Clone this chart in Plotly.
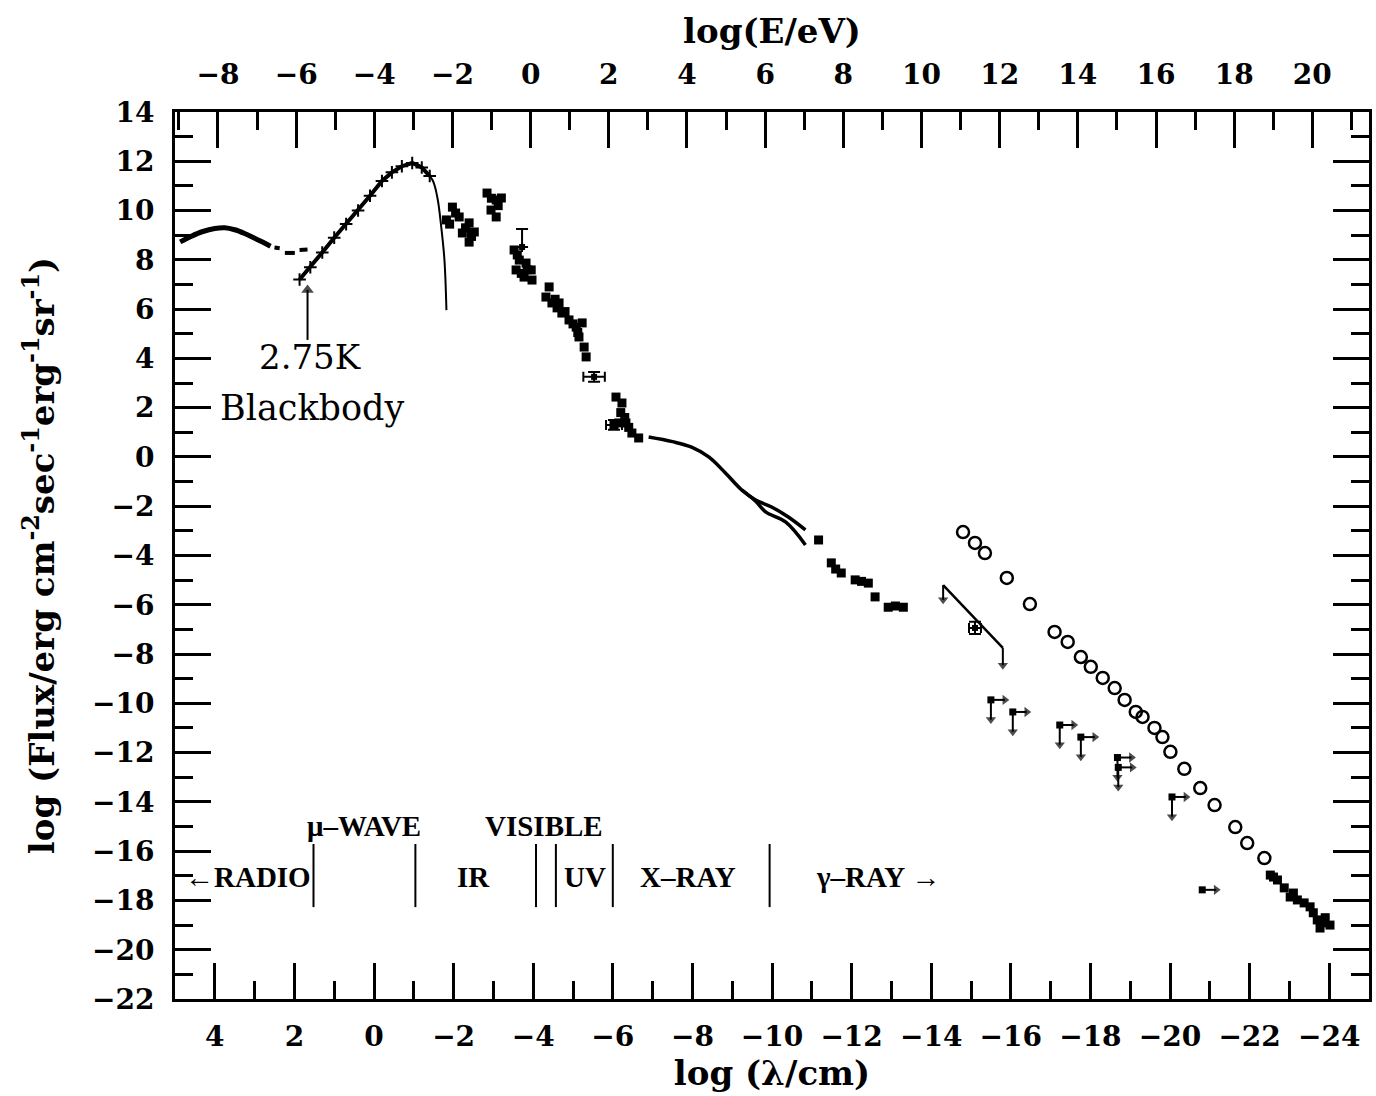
import plotly.graph_objects as go

# ---- measured spectrum of the diffuse background, log10 of wavelength (cm) vs log10 flux ----
# radio background
radio_logl = [4.87, 4.6, 4.3, 4.0, 3.75, 3.5, 3.25, 3.0, 2.8, 2.6]
radio_logf = [8.73, 8.95, 9.15, 9.27, 9.3, 9.22, 9.07, 8.88, 8.72, 8.55]
radio_gap_logl = [2.5, 2.37, None, 2.24, 1.99, None, 1.87, 1.67]
radio_gap_logf = [8.5, 8.47, None, 8.28, 8.28, None, 8.4, 8.42]

# microwave background measurements (thick band) and the 2.75 K blackbody curve
cmb_logl = [1.87, 1.6, 1.3, 1.0, 0.7, 0.4, 0.1, -0.2, -0.45, -0.7, -0.96, -1.2, -1.4]
cmb_logf = [7.2, 7.7, 8.3, 8.9, 9.45, 10.0, 10.6, 11.2, 11.55, 11.8, 11.93, 11.75, 11.4]
bb_logl = [-0.96, -1.22, -1.47, -1.59, -1.69, -1.77, -1.82]
bb_logf = [11.93, 11.73, 11.24, 10.55, 9.33, 7.99, 5.96]

# infrared points
ir_logl = [-1.82, -1.97, -2.14, -2.22, -2.39, -2.52, -2.39, -2.05, -2.3, -1.9, -2.45,
           -2.84, -3.07, -2.94, -3.2, -3.07, -2.95, -3.12,
           -3.52, -3.65, -3.57, -3.82, -3.95, -3.77, -3.97, -3.6, -3.85, -3.7]
ir_logf = [9.62, 10.14, 9.74, 9.09, 9.5, 9.13, 8.72, 9.9, 9.3, 9.45, 8.95,
           10.71, 10.43, 10.02, 10.51, 9.74, 10.5, 10.2,
           8.4, 7.99, 7.59, 7.87, 7.59, 7.3, 7.18, 8.2, 7.6, 7.45]

# optical / ultraviolet points
opt_logl = [-4.4, -4.32, -4.47, -4.65, -4.72, -4.9, -5.08, -5.23, -5.15, -5.28, -5.33,
            -4.55, -4.8, -5.0, -4.6, -5.12,
            -6.08, -6.23, -6.15, -6.33, -6.48, -6.65, -6.03, -6.2, -6.4, -6.3]
opt_logf = [6.9, 6.49, 6.25, 6.25, 5.84, 5.56, 5.27, 5.44, 4.87, 4.46, 4.06,
            6.4, 5.9, 5.4, 6.05, 5.05,
            2.43, 2.19, 1.38, 1.38, 0.97, 0.77, 1.3, 1.8, 1.2, 1.6]

# points drawn with explicit error bars
errpt_logl = [-3.72, -5.53, -6.03, -15.1]
errpt_logf = [8.52, 3.25, 1.3, -6.94]
errpt_up = [0.73, 0.2, 0.2, 0.25]
errpt_dn = [0.0, 0.2, 0.2, 0.25]
errpt_lr = [0.0, 0.27, 0.2, 0.15]

# X-ray background spectrum (two fitted branches)
xray_logl = [-6.9, -7.5, -7.98, -8.41, -8.83, -9.24, -9.59, -9.99, -10.41, -10.84]
xray_logf = [0.81, 0.62, 0.4, 0.0, -0.65, -1.34, -1.75, -2.03, -2.44, -2.96]
xray_low_logl = [-9.24, -9.59, -9.84, -10.34, -10.84]
xray_low_logf = [-1.34, -1.8, -2.23, -2.64, -3.57]

# hard X-ray points
hx_logl = [-11.17, -11.49, -11.6, -11.74, -12.09, -12.25, -12.42, -12.59, -12.92, -13.1, -13.3]
hx_logf = [-3.37, -4.3, -4.55, -4.71, -4.99, -5.05, -5.12, -5.68, -6.1, -6.05, -6.1]

# gamma-ray upper-limit fit
gfit_logl = [-14.3, -15.8]
gfit_logf = [-5.2, -7.75]

# cosmic-ray flux (open circles)
cr_logl = [-14.8, -15.1, -15.35, -15.9, -16.48, -17.1, -17.43, -17.76, -18.01, -18.31,
           -18.61, -18.86, -19.14, -19.31, -19.61, -19.81, -20.01, -20.36, -20.76,
           -21.12, -21.64, -21.94, -22.37]
cr_logf = [-3.05, -3.49, -3.9, -4.91, -5.97, -7.1, -7.51, -8.12, -8.52, -8.97,
           -9.38, -9.86, -10.35, -10.55, -11.0, -11.37, -11.97, -12.66, -13.44,
           -14.13, -15.02, -15.67, -16.28]

# highest-energy measurements
uhe_logl = [-22.52, -22.6, -22.7, -22.87, -23.02, -23.1, -23.2, -23.37, -23.52, -23.6,
            -23.7, -23.77, -23.87, -23.9, -24.02]
uhe_logf = [-16.97, -17.05, -17.17, -17.49, -17.86, -17.7, -17.98, -18.1, -18.26, -18.5,
            -18.79, -19.12, -18.91, -18.7, -19.0]

# upper limits (arrow right and down)
lim_logl = [-15.5, -16.05, -17.23, -17.76, -18.68, -18.7, -20.05]
lim_logf = [-9.86, -10.35, -10.88, -11.37, -12.2, -12.6, -13.8]
# upper limit with a right arrow only
limr_logl = [-20.81]
limr_logf = [-17.57]

# pointer to the blackbody curve
bb_pointer_logl = [1.67, 1.67]
bb_pointer_logf = [4.75, 6.78]

# spectral band boundaries and names
band_edges = [1.52, -1.04, -4.07, -4.57, -6.0, -9.94]
band_edge_top = -15.71
band_edge_bottom = -18.27
band_names = ["\u2190RADIO", "IR", "UV", "X\u2013RAY", "\u03b3\u2013RAY \u2192"]
band_name_logl = [3.17, -2.49, -5.3, -7.9, -12.67]
band_name_logf = [-17.05, -17.05, -17.05, -17.05, -17.05]
upper_names = ["\u03bc\u2013WAVE", "VISIBLE"]
upper_name_logl = [0.24, -4.27]
upper_name_logf = [-14.98, -14.98]

# axis ticks
lam_ticks = list(range(4, -25, -2))
e_ticks = list(range(-8, 21, 2))
flux_ticks = list(range(14, -23, -2))

SERIF = "DejaVu Serif"
BLACK = "black"

# arrow lengths for limit markers, in axis units
LIM_RIGHT = 0.35
LIM_DOWN = 0.8

fig = go.Figure()

fig.add_trace(go.Scatter(x=radio_logl, y=radio_logf, mode="lines",
                         line=dict(color=BLACK, width=5, shape="spline")))
fig.add_trace(go.Scatter(x=radio_gap_logl, y=radio_gap_logf, mode="lines",
                         line=dict(color=BLACK, width=4), connectgaps=False))
fig.add_trace(go.Scatter(x=bb_logl, y=bb_logf, mode="lines",
                         line=dict(color=BLACK, width=2, shape="spline")))
fig.add_trace(go.Scatter(x=cmb_logl, y=cmb_logf, mode="lines+markers",
                         line=dict(color=BLACK, width=4),
                         marker=dict(symbol="cross-thin", size=9,
                                     line=dict(color=BLACK, width=2))))
for xs, ys in ((ir_logl, ir_logf), (opt_logl, opt_logf), (hx_logl, hx_logf),
               (uhe_logl, uhe_logf)):
    fig.add_trace(go.Scatter(x=xs, y=ys, mode="markers",
                             marker=dict(symbol="square", size=9, color=BLACK)))
fig.add_trace(go.Scatter(
    x=errpt_logl, y=errpt_logf, mode="markers",
    marker=dict(symbol="square", size=6, color=BLACK),
    error_y=dict(type="data", symmetric=False, array=errpt_up, arrayminus=errpt_dn,
                 color=BLACK, thickness=2, width=6),
    error_x=dict(type="data", array=errpt_lr, color=BLACK, thickness=2, width=5)))
for xs, ys in ((xray_logl, xray_logf), (xray_low_logl, xray_low_logf)):
    fig.add_trace(go.Scatter(x=xs, y=ys, mode="lines",
                             line=dict(color=BLACK, width=3.5, shape="spline")))
fig.add_trace(go.Scatter(x=gfit_logl, y=gfit_logf, mode="lines",
                         line=dict(color=BLACK, width=2.5)))
fig.add_trace(go.Scatter(x=cr_logl, y=cr_logf, mode="markers",
                         marker=dict(symbol="circle-open", size=12, color=BLACK,
                                     line=dict(color=BLACK, width=2.5))))
fig.add_trace(go.Scatter(x=lim_logl + limr_logl, y=lim_logf + limr_logf, mode="markers",
                         marker=dict(symbol="square", size=7, color=BLACK)))

# arrows: a shaft from tail to head, with a solid triangular head at the tip
arr_x, arr_y, arr_size, arr_symbol = [], [], [], []


def add_arrow(x0, y0, x1, y1, head_symbol, head=9):
    arr_x.extend([x0, x1, None])
    arr_y.extend([y0, y1, None])
    arr_size.extend([0, head, 0])
    arr_symbol.extend(["circle", head_symbol, "circle"])


# the wavelength axis runs right-to-left, so decreasing log(lambda) points right
for lx, ly in zip(lim_logl, lim_logf):
    add_arrow(lx, ly, lx - LIM_RIGHT, ly, "triangle-right")
    add_arrow(lx, ly, lx, ly - LIM_DOWN, "triangle-down")
for lx, ly in zip(limr_logl, limr_logf):
    add_arrow(lx, ly, lx - LIM_RIGHT, ly, "triangle-right")
# the gamma-ray fit is an upper limit at both ends
add_arrow(gfit_logl[0], gfit_logf[0], gfit_logl[0], gfit_logf[0] - 0.6, "triangle-down")
add_arrow(gfit_logl[1], gfit_logf[1], gfit_logl[1], gfit_logf[1] - 0.7, "triangle-down")
add_arrow(bb_pointer_logl[0], bb_pointer_logf[0], bb_pointer_logl[1], bb_pointer_logf[1],
          "triangle-up", head=11)

fig.add_trace(go.Scatter(x=arr_x, y=arr_y, mode="lines+markers", connectgaps=False,
                         line=dict(color=BLACK, width=2),
                         marker=dict(symbol=arr_symbol, size=arr_size, color=BLACK,
                                     line=dict(width=0))))

# band boundary ticks
edge_x, edge_y = [], []
for e in band_edges:
    edge_x += [e, e, None]
    edge_y += [band_edge_top, band_edge_bottom, None]
fig.add_trace(go.Scatter(x=edge_x, y=edge_y, mode="lines",
                         line=dict(color=BLACK, width=2)))

# the photon-energy scale along the top has no marks of its own; an empty
# trace ties it to the plot so that the axis is drawn
fig.add_trace(go.Scatter(x=[], y=[], xaxis="x2", yaxis="y", mode="markers"))

annotations = []
annotations.append(dict(x=1.62, y=4.06, xref="x", yref="y", text="2.75K",
                        showarrow=False, font=dict(family=SERIF, size=34, color=BLACK)))
annotations.append(dict(x=3.92, y=2.0, xref="x", yref="y", text="Blackbody",
                        xanchor="left", showarrow=False,
                        font=dict(family=SERIF, size=35, color=BLACK)))

# band names
for name, lx, ly in zip(band_names + upper_names, band_name_logl + upper_name_logl,
                        band_name_logf + upper_name_logf):
    annotations.append(dict(x=lx, y=ly, xref="x", yref="y", text=name, showarrow=False,
                            font=dict(family="Liberation Serif", size=29, color=BLACK,
                                      weight="bold")))

tickfont = dict(family=SERIF, size=28, color=BLACK, weight="bold")
titlefont = dict(family=SERIF, size=34, color=BLACK, weight="bold")
minor = dict(ticks="inside", ticklen=18, tickwidth=3, tickcolor=BLACK, dtick=1, tick0=0)

fig.update_layout(
    width=1376, height=1096,
    margin=dict(l=175, r=4, t=112, b=97),
    paper_bgcolor="white", plot_bgcolor="white",
    showlegend=False,
    annotations=annotations,
    xaxis=dict(range=[5, -25], tickvals=lam_ticks, ticks="inside", ticklen=36,
               tickwidth=3, tickcolor=BLACK, minor=minor, showline=True, linewidth=3,
               linecolor=BLACK, showgrid=False, zeroline=False, tickfont=tickfont,
               ticklabelstandoff=10,
               title=dict(text="log (\u03bb/cm)", font=titlefont, standoff=0)),
    xaxis2=dict(range=[-9.1, 21.45], overlaying="x", side="top", anchor="y",
                tickvals=e_ticks, ticks="inside", ticklen=36, tickwidth=3,
                tickcolor=BLACK, minor=minor, showline=True, linewidth=3,
                linecolor=BLACK, showgrid=False, zeroline=False, tickfont=tickfont,
                ticklabelstandoff=14,
                title=dict(text="log(E/eV)", font=titlefont, standoff=4)),
    yaxis=dict(range=[-22, 14], tickvals=flux_ticks, ticks="inside", ticklen=36,
               tickwidth=3, tickcolor=BLACK, minor=minor, showline=True, linewidth=3,
               linecolor=BLACK, mirror="ticks", showgrid=False, zeroline=False,
               tickfont=tickfont, ticklabelstandoff=12,
               title=dict(text="log (Flux/erg cm<sup>-2</sup>sec<sup>-1</sup>erg<sup>-1</sup>sr<sup>-1</sup>)",
                          font=titlefont, standoff=28)),
)

fig.write_html("out.html")
